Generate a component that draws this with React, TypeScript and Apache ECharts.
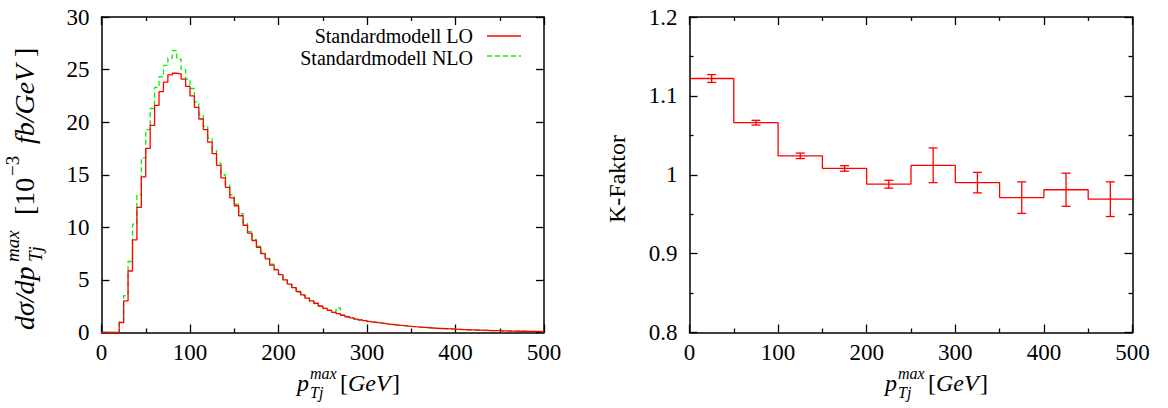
import React, { useEffect, useRef } from "react";
import * as echarts from "echarts";

// ---------- data ----------
const BIN_WIDTH = 5; // GeV
const loValues = [
  0, 0, 0, 0, 0.95, 3.0, 5.85, 8.8, 11.9, 14.8,
  17.5, 19.7, 21.6, 22.9, 23.8, 24.5, 24.65, 24.6, 24.1, 23.4,
  22.5, 21.4, 20.3, 19.3, 18.1, 17.0, 15.9, 14.7, 13.8, 12.8,
  12.05, 11.1, 10.2, 9.45, 8.75, 8.1, 7.5, 7.0, 6.4, 5.95,
  5.5, 5.0, 4.6, 4.27, 3.9, 3.57, 3.26, 3.0, 2.78, 2.52,
  2.3, 2.11, 1.92, 1.79, 1.64, 1.5, 1.4, 1.28, 1.2, 1.12,
  1.05, 0.98, 0.92, 0.86, 0.8, 0.76, 0.71, 0.67, 0.63, 0.59,
  0.55, 0.52, 0.49, 0.46, 0.43, 0.4, 0.38, 0.36, 0.34, 0.32,
  0.3, 0.28, 0.26, 0.25, 0.23, 0.22, 0.21, 0.19, 0.18, 0.17,
  0.16, 0.15, 0.14, 0.13, 0.12, 0.12, 0.11, 0.1, 0.1, 0.09,
];
const nloValues = [
  0, 0, 0, 0, 1.0, 3.5, 6.75, 10.3, 13.1, 16.6,
  19.3, 21.3, 23.3, 24.3, 25.4, 26.1, 26.8, 26.0, 25.0, 24.1,
  23.2, 21.9, 20.7, 19.6, 18.5, 17.3, 16.1, 15.0, 14.0, 13.1,
  12.2, 11.3, 10.4, 9.6, 8.85, 8.2, 7.6, 7.05, 6.5, 6.0,
  5.5, 5.0, 4.55, 4.25, 3.85, 3.55, 3.25, 2.95, 2.75, 2.5,
  2.3, 2.12, 1.95, 2.35, 1.65, 1.52, 1.4, 1.3, 1.19, 1.13,
  1.04, 0.99, 0.91, 0.87, 0.79, 0.76, 0.72, 0.66, 0.63, 0.58,
  0.55, 0.51, 0.49, 0.45, 0.43, 0.39, 0.38, 0.35, 0.34, 0.31,
  0.3, 0.27, 0.26, 0.24, 0.23, 0.21, 0.21, 0.18, 0.18, 0.16,
  0.16, 0.14, 0.14, 0.12, 0.12, 0.11, 0.11, 0.1, 0.09, 0.09,
];

const K_BIN_WIDTH = 50; // GeV
const kValues = [1.122, 1.066, 1.024, 1.008, 0.988, 1.012, 0.99, 0.971, 0.981, 0.969];
const kErrors = [0.005, 0.003, 0.0035, 0.0035, 0.005, 0.022, 0.013, 0.02, 0.021, 0.022];

const legendLabels = ["Standardmodell LO", "Standardmodell NLO"];
const X_MIN = 0;
const X_MAX = 500;

// ---------- helpers ----------
const SERIF = "Liberation Serif";
const RED = "#ff0000";
const GREEN = "#00f000";

function stepData(values: number[], width: number) {
  const pts: number[][] = values.map((v, i) => [i * width, v]);
  pts.push([values.length * width, values[values.length - 1]]);
  return pts;
}

function axisPair(opts: any, gridIndex: number, isX: boolean) {
  const common = {
    gridIndex,
    type: opts.type,
    min: opts.min,
    max: opts.max,
    interval: opts.interval,
    axisLine: { show: true, onZero: false, lineStyle: { color: "#000", width: 1.5 } },
    axisTick: { show: true, inside: true, length: 8, lineStyle: { color: "#000", width: 1.3 } },
    minorTick: opts.minorTick,
    splitLine: { show: false },
  };
  const main = {
    ...common,
    position: isX ? "bottom" : "left",
    axisLabel: {
      show: true,
      color: "#000",
      fontFamily: SERIF,
      fontSize: 23,
      margin: isX ? 8 : 12,
      formatter: opts.formatter,
    },
  };
  const mirror = {
    ...common,
    position: isX ? "top" : "right",
    axisLabel: { show: false },
  };
  return [main, mirror];
}

function mathTitle(x: number, y: number, rotation: number, parts: any[]) {
  return {
    type: "group",
    x,
    y,
    rotation,
    children: parts.map((p) => ({
      type: "text",
      x: p.x,
      y: p.y || 0,
      style: {
        text: p.t,
        fontFamily: SERIF,
        fontSize: p.s,
        fontStyle: p.i ? "italic" : "normal",
        fill: "#000",
        verticalAlign: "middle",
        align: "left",
      },
    })),
  };
}

const xTitleParts = [
  { t: "p", x: 0, s: 24, i: true },
  { t: "max", x: 13, y: -10, s: 16, i: true },
  { t: "Tj", x: 13, y: 9, s: 16, i: true },
  { t: "[", x: 43, s: 24 },
  { t: "GeV", x: 51, s: 24, i: true },
  { t: "]", x: 95, s: 24 },
];

const yTitleParts = [
  { t: "dσ/dp", x: 0, s: 28, i: true },
  { t: "max", x: 68, y: -12, s: 19, i: true },
  { t: "Tj", x: 68, y: 11, s: 19, i: true },
  { t: "[10", x: 115, s: 28 },
  { t: "−3", x: 154, y: -12, s: 19 },
  { t: "fb/GeV", x: 186, s: 28, i: true },
  { t: "]", x: 273, s: 28 },
];

export default function App() {
  const ref = useRef<HTMLDivElement>(null);

  useEffect(() => {
    if (!ref.current) return;
    const chart = echarts.init(ref.current, undefined, { renderer: "svg" });

    const minor = { show: true, splitNumber: 2, length: 4, lineStyle: { color: "#000", width: 1.3 } };
    const xOpts = { type: "value", min: X_MIN, max: X_MAX, interval: 100, minorTick: minor };
    const yLeftOpts = { type: "value", min: 0, max: 30, interval: 5, minorTick: { show: false } };
    const yRightOpts = {
      type: "value",
      min: 0.8,
      max: 1.2,
      interval: 0.1,
      minorTick: minor,
      formatter: (v: number) => String(Math.round(v * 10) / 10),
    };

    const xA = axisPair(xOpts, 0, true);
    const xB = axisPair(xOpts, 1, true);
    const yA = axisPair(yLeftOpts, 0, false);
    const yB = axisPair(yRightOpts, 1, false);

    const kStep = stepData(kValues, K_BIN_WIDTH);
    const kErr = kValues.map((v, i) => [i * K_BIN_WIDTH + K_BIN_WIDTH / 2, v, kErrors[i]]);

    const option: any = {
      animation: false,
      backgroundColor: "#fff",
      grid: [
        { left: 101.5, top: 17, width: 442.5, height: 315.5, show: false },
        { left: 689.5, top: 17, width: 443, height: 315.5, show: false },
      ],
      xAxis: [...xA, ...xB],
      yAxis: [...yA, ...yB],
      series: [
        {
          type: "line",
          name: legendLabels[0],
          xAxisIndex: 0,
          yAxisIndex: 0,
          step: "end",
          symbol: "none",
          data: stepData(loValues, BIN_WIDTH),
          lineStyle: { color: RED, width: 1.3 },
          z: 3,
        },
        {
          type: "line",
          name: legendLabels[1],
          xAxisIndex: 0,
          yAxisIndex: 0,
          step: "end",
          symbol: "none",
          data: stepData(nloValues, BIN_WIDTH),
          lineStyle: { color: GREEN, width: 1.3, type: [5, 3] },
          z: 2,
        },
        {
          type: "line",
          xAxisIndex: 2,
          yAxisIndex: 2,
          step: "end",
          symbol: "none",
          data: kStep,
          lineStyle: { color: RED, width: 1.3 },
        },
        {
          type: "custom",
          xAxisIndex: 2,
          yAxisIndex: 2,
          data: kErr,
          renderItem: (params: any, api: any) => {
            const x = api.value(0);
            const y = api.value(1);
            const e = api.value(2);
            const lo = api.coord([x, y - e]);
            const hi = api.coord([x, y + e]);
            const cap = 4.5;
            const st = { stroke: RED, lineWidth: 1.3 };
            return {
              type: "group",
              children: [
                { type: "line", shape: { x1: lo[0], y1: lo[1], x2: hi[0], y2: hi[1] }, style: st },
                { type: "line", shape: { x1: lo[0] - cap, y1: lo[1], x2: lo[0] + cap, y2: lo[1] }, style: st },
                { type: "line", shape: { x1: hi[0] - cap, y1: hi[1], x2: hi[0] + cap, y2: hi[1] }, style: st },
              ],
            };
          },
        },
      ],
      graphic: [
        {
          type: "text",
          x: 473,
          y: 36,
          style: { text: legendLabels[0], fontFamily: SERIF, fontSize: 20, fill: "#000", align: "right", verticalAlign: "middle" },
        },
        {
          type: "text",
          x: 473,
          y: 57.5,
          style: { text: legendLabels[1], fontFamily: SERIF, fontSize: 20, fill: "#000", align: "right", verticalAlign: "middle" },
        },
        { type: "line", shape: { x1: 487, y1: 36, x2: 521, y2: 36 }, style: { stroke: RED, lineWidth: 1.3 } },
        { type: "line", shape: { x1: 487, y1: 56, x2: 521, y2: 56 }, style: { stroke: GREEN, lineWidth: 1.3, lineDash: [5, 3] } },
        mathTitle(297, 383, 0, xTitleParts),
        mathTitle(885, 383, 0, xTitleParts),
        mathTitle(24, 330, Math.PI / 2, yTitleParts),
        {
          type: "text",
          x: 617,
          y: 179,
          rotation: Math.PI / 2,
          style: { text: "K-Faktor", fontFamily: SERIF, fontSize: 24, fill: "#000", align: "center", verticalAlign: "middle" },
        },
      ],
    };

    chart.setOption(option);
    return () => chart.dispose();
  }, []);

  return (
    <div
      ref={ref}
      style={{ position: "fixed", left: 0, top: 0, width: 1168, height: 408, background: "#fff" }}
    />
  );
}
